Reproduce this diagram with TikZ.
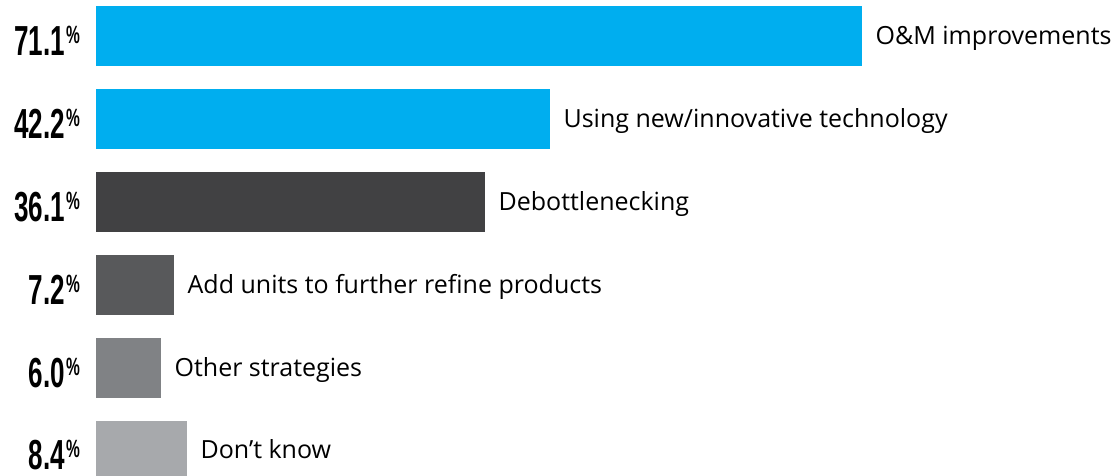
\documentclass[tikz,border=0pt]{standalone}
\usepackage{fontspec}
\setmainfont{Open Sans}
\newfontfamily\numfont{Liberation Sans}
\usepackage{graphicx}
\usetikzlibrary{positioning}

\definecolor{barblue}{HTML}{00AEEF}
\definecolor{bardark}{HTML}{414143}
\definecolor{barmid}{HTML}{58595B}
\definecolor{bargrey}{HTML}{808285}
\definecolor{barlight}{HTML}{A7A9AC}

% percentage in a narrow bold face, with a raised small sign
\newcommand\pctval[1]{\scalebox{0.62}[1]{\numfont\bfseries\fontsize{42}{42}\selectfont #1\kern2pt\raisebox{12pt}{\fontsize{25}{25}\selectfont\%}}}

\begin{document}
\begin{tikzpicture}[x=1pt,y=-1pt,
                    bar/.style={rectangle,draw=none,inner sep=0pt,minimum height=60pt,anchor=north west},
                    answer/.style={inner sep=0pt,anchor=base west,font=\fontsize{25}{25}\selectfont},
                    share/.style={inner sep=0pt,anchor=base east}]

  \useasboundingbox[fill=white] (0,0) rectangle (1119,476);

  % bars
  \node[bar,fill=barblue,minimum width=766pt] (om) at (96,6) {};
  \node[bar,fill=barblue,minimum width=454pt] (tech) at (96,89) {};
  \node[bar,fill=bardark,minimum width=389pt] (debottle) at (96,172) {};
  \node[bar,fill=barmid,minimum width=78pt] (units) at (96,255) {};
  \node[bar,fill=bargrey,minimum width=65pt] (other) at (96,338) {};
  \node[bar,fill=barlight,minimum width=91pt,minimum height=55pt] (dunno) at (96,421) {};

  % answers
  \node[answer] (om label) at ([xshift=13pt,yshift=-8pt]om.east) {O\&M improvements};
  \node[answer] (tech label) at ([xshift=13pt,yshift=-8pt]tech.east) {Using new/innovative technology};
  \node[answer] (debottle label) at ([xshift=13pt,yshift=-8pt]debottle.east) {Debottlenecking};
  \node[answer] (units label) at ([xshift=13pt,yshift=-8pt]units.east) {Add units to further refine products};
  \node[answer] (other label) at ([xshift=13pt,yshift=-8pt]other.east) {Other strategies};
  \node[answer] (dunno label) at ([xshift=13pt,yshift=-9.5pt]dunno.east) {Don’t know};

  % shares
  \node[share] (om pct) at ([xshift=-16pt,yshift=-19pt]om.west) {\pctval{71.1}};
  \node[share] (tech pct) at ([xshift=-16pt,yshift=-19pt]tech.west) {\pctval{42.2}};
  \node[share] (debottle pct) at ([xshift=-16pt,yshift=-19pt]debottle.west) {\pctval{36.1}};
  \node[share] (units pct) at ([xshift=-16pt,yshift=-19pt]units.west) {\pctval{7.2}};
  \node[share] (other pct) at ([xshift=-16pt,yshift=-19pt]other.west) {\pctval{6.0}};
  \node[share] (dunno pct) at ([xshift=-16pt,yshift=-20.5pt]dunno.west) {\pctval{8.4}};
\end{tikzpicture}
\end{document}
